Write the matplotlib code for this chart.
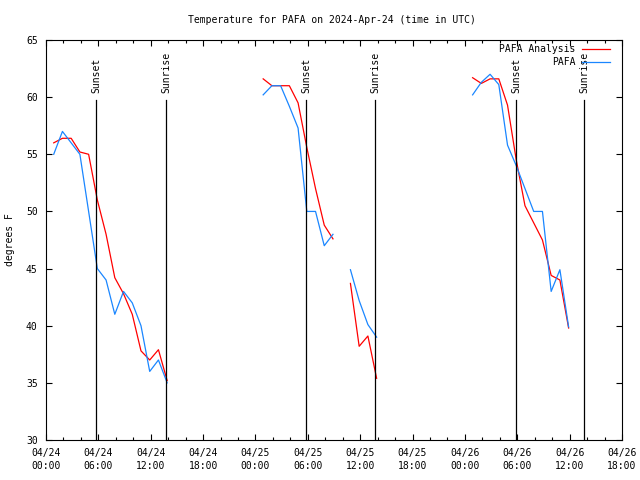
import matplotlib
matplotlib.use("Agg")
import matplotlib.pyplot as plt
import matplotlib.dates as mdates
import pandas as pd

plt.rcParams['font.family'] = ['DejaVu Sans Mono']
plt.rcParams['font.size'] = 7

# hourly stretches of data (UTC); gaps between them are missing hours
times_a = ["2024-04-24 00:53", "2024-04-24 01:53", "2024-04-24 02:53", "2024-04-24 03:53",
           "2024-04-24 04:53", "2024-04-24 05:53", "2024-04-24 06:53", "2024-04-24 07:53",
           "2024-04-24 08:53", "2024-04-24 09:53", "2024-04-24 10:53", "2024-04-24 11:53",
           "2024-04-24 12:53", "2024-04-24 13:53"]
obs_a = [55, 57, 56, 55, 50, 45, 44, 41, 43, 42, 40, 36, 37, 35]
ana_a = [56.0, 56.4, 56.4, 55.2, 55.0, 51.0, 48.0, 44.2, 42.8, 41.0, 37.8, 37.0, 37.9, 35.2]

times_b = ["2024-04-25 00:53", "2024-04-25 01:53", "2024-04-25 02:53", "2024-04-25 03:53",
           "2024-04-25 04:53", "2024-04-25 05:53", "2024-04-25 06:53", "2024-04-25 07:53",
           "2024-04-25 08:53"]
obs_b = [60.2, 61.0, 61.0, 59.2, 57.3, 50.0, 50.0, 47.0, 48.0]
ana_b = [61.6, 61.0, 61.0, 61.0, 59.5, 55.6, 52.0, 48.8, 47.6]

times_c = ["2024-04-25 10:53", "2024-04-25 11:53", "2024-04-25 12:53", "2024-04-25 13:53"]
obs_c = [44.9, 42.2, 40.1, 39.0]
ana_c = [43.7, 38.2, 39.1, 35.4]

times_d = ["2024-04-26 00:53", "2024-04-26 01:53", "2024-04-26 02:53", "2024-04-26 03:53",
           "2024-04-26 04:53", "2024-04-26 05:53", "2024-04-26 06:53", "2024-04-26 07:53",
           "2024-04-26 08:53", "2024-04-26 09:53", "2024-04-26 10:53", "2024-04-26 11:53"]
obs_d = [60.2, 61.3, 62.0, 61.1, 55.8, 54.0, 52.0, 50.0, 50.0, 43.0, 44.9, 39.9]
ana_d = [61.7, 61.2, 61.6, 61.6, 59.3, 54.5, 50.5, 49.0, 47.5, 44.4, 44.0, 39.8]

sunsets = ["2024-04-24 05:46", "2024-04-25 05:49", "2024-04-26 05:52"]
sunrises = ["2024-04-24 13:47", "2024-04-25 13:43", "2024-04-26 13:39"]

segments = [(times_a, obs_a, ana_a), (times_b, obs_b, ana_b),
            (times_c, obs_c, ana_c), (times_d, obs_d, ana_d)]

fig = plt.figure(figsize=(6.4, 4.8), dpi=100)
ax = fig.add_axes([46 / 640, 1 - 440 / 480, 576 / 640, 400 / 480])

for i, (t, obs, ana) in enumerate(segments):
    t = pd.to_datetime(t)
    ax.plot(t, ana, color='#ff0000', lw=0.9, label='PAFA Analysis' if i == 0 else None)
    ax.plot(t, obs, color='#1a86ff', lw=0.9, label='PAFA' if i == 0 else None)

# sun lines with rotated labels
for name, when in [('Sunset', s) for s in sunsets] + [('Sunrise', s) for s in sunrises]:
    x = pd.Timestamp(when)
    ax.plot([x, x], [30, 59.75], color='black', lw=0.9)
    ax.text(x, 60.4, name, rotation=90, ha='center', va='bottom', fontsize=7)

ax.set_xlim(pd.Timestamp("2024-04-24 00:00"), pd.Timestamp("2024-04-26 18:00"))
ax.set_ylim(30, 65)
ax.set_yticks([30, 35, 40, 45, 50, 55, 60, 65])

ax.xaxis.set_major_locator(mdates.HourLocator(byhour=[0, 6, 12, 18]))
ax.xaxis.set_minor_locator(mdates.HourLocator(interval=2))
ax.xaxis.set_major_formatter(mdates.DateFormatter('%m/%d\n%H:%M'))

ax.tick_params(which='both', direction='in', top=True, right=True, width=0.8, colors='black')
ax.tick_params(which='major', length=4.5, pad=6)
ax.tick_params(which='minor', length=2.5)
for lab in ax.get_xticklabels():
    lab.set_linespacing(1.35)
for sp in ax.spines.values():
    sp.set_linewidth(0.8)

fig.text(332 / 640, 1 - 20 / 480, 'Temperature for PAFA on 2024-Apr-24 (time in UTC)',
         ha='center', va='center', fontsize=7)
fig.text(10 / 640, 0.5, 'degrees F', rotation=90, ha='center', va='center', fontsize=7)

ax.legend(loc='upper right', bbox_to_anchor=(0.98, 0.99), frameon=False, markerfirst=False,
          borderaxespad=0, borderpad=0, handlelength=2.9, handletextpad=0.7,
          labelspacing=0.3, fontsize=7)

fig.savefig('out.png', dpi=100)
